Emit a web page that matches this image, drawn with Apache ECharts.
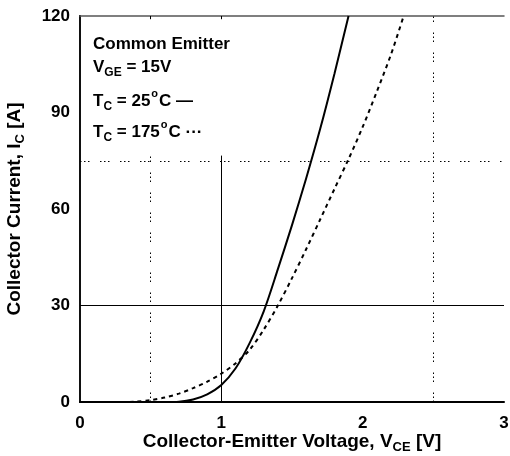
<!DOCTYPE html>
<html><head><meta charset="utf-8">
<script src="https://cdn.jsdelivr.net/npm/echarts@6/dist/echarts.min.js"></script>
<style>html,body{margin:0;padding:0;background:#fff}#c{width:510px;height:456px}</style>
</head><body><div id="c"></div>
<script>
// Collector-emitter voltage (V) vs collector current (A)
var vce25 = [0.60, 0.70, 0.80, 0.90, 1.00, 1.10, 1.20, 1.30, 1.40, 1.50, 1.60, 1.70, 1.80, 1.90];
var ic25  = [0.0, 0.1, 0.8, 2.4, 5.3, 10.4, 18.3, 28.2, 41.3, 55.0, 69.5, 85.0, 102.0, 120.0];
var vce175 = [0.35, 0.40, 0.50, 0.60, 0.70, 0.80, 0.90, 1.00, 1.10, 1.20, 1.30, 1.40, 1.50, 1.60, 1.70, 1.80, 1.90, 2.00, 2.10, 2.20, 2.29];
var ic175  = [0.0, 0.1, 0.6, 1.4, 2.6, 4.3, 6.3, 8.8, 12.0, 16.2, 22.5, 30.0, 38.5, 47.5, 56.8, 66.2, 75.5, 85.5, 96.5, 108.0, 120.0];
var xTicks = [0, 1, 2, 3];
var yTicks = [0, 30, 60, 90, 120];
var refSolidX = 1, refSolidY = 30, refTopI = 76.6;
var refDotX = [0.5, 2.5], refDotY = 75;

function pairs(xs, ys){ return xs.map(function(x,i){ return [x, ys[i]]; }); }

var FONT = 'Liberation Sans, Arial, sans-serif';
var chart = echarts.init(document.getElementById('c'), null, {renderer:'canvas'});
var dotStyle = {type:[1.5,2.5,1.5,2.5,1.5,10.5], color:'#000', width:1};
var titleRich = {
  t:{fontFamily:FONT, fontWeight:'bold', fontSize:19, color:'#000', lineHeight:22, verticalAlign:'bottom'},
  s:{fontFamily:FONT, fontWeight:'bold', fontSize:13, color:'#000', lineHeight:22, verticalAlign:'bottom', padding:[0,0,-3,0]}
};
var annRich = {
  t:{font:'bold 17px '+FONT, fill:'#000', lineHeight:22, verticalAlign:'bottom'},
  s:{font:'bold 12px '+FONT, fill:'#000', lineHeight:22, verticalAlign:'bottom', padding:[0,0,-3,0]},
  p:{font:'bold 11px '+FONT, fill:'#000', lineHeight:22, verticalAlign:'top', padding:[0,1,0,1]}
};
chart.setOption({
  animation:false,
  backgroundColor:'#fff',
  grid:{left:80, top:16, right:6, bottom:54, show:false, containLabel:false, outerBoundsMode:'none'},
  xAxis:[{type:'value', min:0, max:3, interval:1, position:'bottom',
    axisLine:{show:true, onZero:false, lineStyle:{color:'#000', width:2}},
    axisTick:{show:false}, splitLine:{show:false},
    axisLabel:{color:'#000', fontFamily:FONT, fontWeight:'bold', fontSize:17, margin:13},
    name:'{t|Collector-Emitter Voltage, V}{s|CE}{t| [V]}', nameLocation:'middle', nameGap:27, nameMoveOverlap:false,
    nameTextStyle:{rich:titleRich}
  },{type:'value', min:0, max:3, interval:0.5, position:'top',
    axisLine:{show:true, onZero:false, lineStyle:{color:'#555', width:1.5}},
    axisTick:{show:false}, axisLabel:{show:false}, splitLine:{show:false}}],
  yAxis:[{type:'value', min:0, max:120, interval:30, position:'left',
    axisLine:{show:true, lineStyle:{color:'#000', width:2}},
    axisTick:{show:false}, splitLine:{show:false},
    axisLabel:{color:'#000', fontFamily:FONT, fontWeight:'bold', fontSize:17, margin:10},
    name:'{t|Collector Current, I}{s|C}{t| [A]}', nameLocation:'middle', nameGap:56, nameMoveOverlap:false, nameRotate:90,
    nameTextStyle:{rich:titleRich}
  },{type:'value', min:0, max:120, interval:30, position:'right',
    axisLine:{show:true, lineStyle:{color:'#111', width:2}},
    axisTick:{show:false}, axisLabel:{show:false}, splitLine:{show:false}}],
  series:[
    {type:'line', data:pairs(vce25, ic25), smooth:0.3, showSymbol:false, clip:true,
     lineStyle:{color:'#000', width:2},
     markLine:{silent:true, symbol:'none', label:{show:false}, lineStyle:{color:'#000', width:1, type:'solid'},
       data:[[{coord:[refSolidX,0]},{coord:[refSolidX,refTopI]}],
             [{coord:[0,refSolidY]},{coord:[3,refSolidY]}],
             [{coord:[refDotX[0],120]},{coord:[refDotX[0],119]}],
             [{coord:[refSolidX,120]},{coord:[refSolidX,119]}]]}},
    {type:'line', data:pairs(vce175, ic175), smooth:0.3, showSymbol:false, clip:true,
     lineStyle:{color:'#000', width:2, type:[4,4]},
     markLine:{silent:true, symbol:'none', label:{show:false}, lineStyle:dotStyle,
       data:[[{coord:[refDotX[0],0]},{coord:[refDotX[0],refTopI]}],
             [{coord:[refDotX[1],0]},{coord:[refDotX[1],120]}],
             [{coord:[0,refDotY]},{coord:[3,refDotY]}]]}}
  ],
  graphic:[
    {type:'text', left:93, top:36, style:{text:'Common Emitter', font:'bold 17px '+FONT, fill:'#000'}},
    {type:'text', left:93, top:59, style:{text:'{t|V}{s|GE}{t| = 15V}', rich:annRich}},
    {type:'text', left:93, top:88, style:{text:'{t|T}{s|C}{t| = 25}{p|o}{t|C —}', rich:annRich}},
    {type:'text', left:93, top:119, style:{text:'{t|T}{s|C}{t| = 175}{p|o}{t|C ···}', rich:annRich}}
  ]
});
</script></body></html>
